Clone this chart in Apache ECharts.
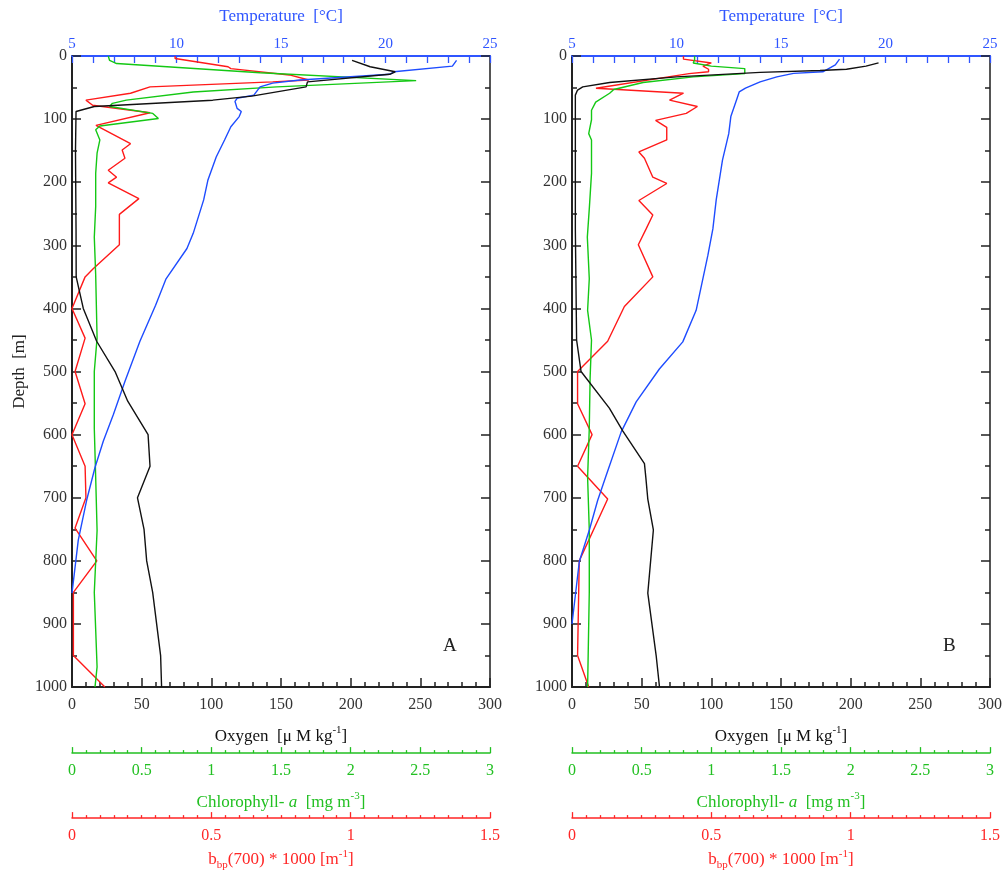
<!DOCTYPE html>
<html>
<head>
<meta charset="utf-8">
<script src="https://cdn.jsdelivr.net/npm/echarts@6/dist/echarts.min.js"></script>
<style>html,body{margin:0;padding:0;background:#fff}#c{width:1005px;height:876px}</style>
</head>
<body>
<div id="c"></div>
<script>
// ---------- Panel A data (depth in m) ----------
const A_oxy_depth = [7, 17, 25, 29, 41, 49, 63.5, 70, 80, 88, 150, 274, 350, 400, 452, 500, 547, 600, 650, 700, 750, 800, 850, 950, 1000];
const A_oxy_val   = [201, 214, 232, 228, 169, 168, 129, 101, 16, 2.9, 2.5, 2.9, 3, 8.1, 17.7, 30.9, 40, 54.6, 56, 47, 51.7, 53.6, 57.9, 63.6, 64.3];

const A_temp_depth = [7, 16, 25, 29, 38, 43, 49, 62, 67, 72, 83, 88, 96, 112, 133, 160, 197, 228, 281, 305, 353, 395, 452, 515, 568, 610, 652, 704, 767, 851];
const A_temp_val   = [23.4, 23.2, 20.4, 20.2, 15.9, 14.6, 14.0, 13.7, 12.9, 12.8, 12.9, 13.1, 13.0, 12.6, 12.3, 11.9, 11.5, 11.3, 10.8, 10.5, 9.5, 9.0, 8.25, 7.54, 6.98, 6.5, 6.1, 5.7, 5.3, 5.0];

const A_chl_depth = [0, 7, 12, 26.5, 39, 49, 57, 70, 75, 80, 91, 99, 111, 117, 133, 154, 186, 239, 287, 347, 447, 500, 590, 668, 752, 850, 968, 1000];
const A_chl_val   = [0.26, 0.27, 0.32, 1.35, 2.47, 1.47, 0.87, 0.39, 0.29, 0.27, 0.58, 0.62, 0.2, 0.17, 0.2, 0.18, 0.17, 0.17, 0.16, 0.17, 0.18, 0.16, 0.16, 0.17, 0.18, 0.16, 0.18, 0.165];

const A_bbp_depth = [0, 4, 17, 20, 30, 38, 41, 49, 59, 70, 78, 80, 90, 110, 139, 149, 162, 181, 192, 201, 226, 251, 299, 337, 350, 400, 447, 500, 551, 600, 650, 700, 748, 800, 850, 950, 1000];
const A_bbp_val   = [0.37, 0.37, 0.56, 0.57, 0.78, 0.85, 0.72, 0.28, 0.21, 0.05, 0.074, 0.08, 0.28, 0.086, 0.21, 0.18, 0.19, 0.13, 0.16, 0.13, 0.24, 0.17, 0.17, 0.076, 0.047, 0.0, 0.047, 0.011, 0.047, 0.0, 0.047, 0.05, 0.011, 0.089, 0.005, 0.005, 0.118];

// ---------- Panel B data ----------
const B_oxy_depth = [11, 16, 21, 23, 26, 33, 42, 49, 54, 62, 274, 450, 500, 558, 594, 646, 668, 702, 751, 851, 950, 1000];
const B_oxy_val   = [220, 211, 197, 178, 135, 75, 27, 7.7, 4, 2.4, 2.4, 3.3, 6.5, 26.8, 36.4, 52, 53, 54.4, 58.4, 54.4, 60.4, 62.8];

const B_temp_depth = [5, 14, 25, 27.5, 33, 41, 51, 57, 67, 96, 123, 165, 228, 274, 316, 403, 453, 496, 548, 596, 665, 704, 751, 801, 900];
const B_temp_val   = [17.8, 17.6, 17.0, 15.6, 14.8, 14.0, 13.3, 13.0, 12.9, 12.6, 12.5, 12.2, 11.9, 11.74, 11.5, 10.94, 10.3, 9.18, 8.07, 7.35, 6.63, 6.23, 5.83, 5.35, 5.0];

const B_chl_depth = [0, 6, 11, 16, 20, 28, 33, 42, 53, 59, 73, 86, 101, 123, 133, 186, 239, 287, 353, 403, 450, 510, 590, 668, 751, 850, 1000];
const B_chl_val   = [0.88, 0.88, 0.87, 1.0, 1.24, 1.24, 0.87, 0.51, 0.3, 0.27, 0.17, 0.14, 0.14, 0.12, 0.14, 0.14, 0.125, 0.11, 0.124, 0.112, 0.14, 0.13, 0.124, 0.112, 0.124, 0.124, 0.112];

const B_bbp_depth = [0, 5, 11, 16, 21, 25, 28, 51, 54, 59, 70, 80, 91, 102, 113, 133, 152, 162, 192, 202, 229, 252, 274, 299, 350, 397, 452, 500, 551, 600, 650, 702, 800, 950, 1000];
const B_bbp_val   = [0.40, 0.40, 0.50, 0.47, 0.49, 0.49, 0.42, 0.086, 0.09, 0.40, 0.35, 0.45, 0.41, 0.30, 0.34, 0.34, 0.24, 0.26, 0.29, 0.34, 0.24, 0.29, 0.266, 0.238, 0.29, 0.188, 0.128, 0.02, 0.02, 0.072, 0.02, 0.128, 0.026, 0.02, 0.06];

// ---------- axis / label texts ----------
const panelLabels = ['A', 'B'];
const tempTitle = 'Temperature  [°C]';
const depthTitle = 'Depth  [m]';

// ---------- styling ----------
const SERIF = '"Liberation Serif", "DejaVu Serif", serif';
const BLACK = '#222', BLUE = '#2f55ff', GREEN = '#22c022', RED = '#ff2626';
const LBLUE = '#1e4cff', LGREEN = '#14c814', LRED = '#ff1a1a';
const gridLefts = [72, 572];
const plain = v => String(v);

function zip(d, v) { return d.map((dd, i) => [v[i], dd]); }

const richBase = (color) => ({
  t: { fontSize: 17, fontFamily: SERIF, color: color, lineHeight: 22, verticalAlign: 'middle' },
  i: { fontSize: 17, fontFamily: SERIF, color: color, fontStyle: 'italic', lineHeight: 22, verticalAlign: 'middle' },
  sup: { fontSize: 11, fontFamily: SERIF, color: color, lineHeight: 10, verticalAlign: 'top' },
  sub: { fontSize: 11, fontFamily: SERIF, color: color, lineHeight: 10, verticalAlign: 'bottom' }
});

const grids = [], xAxes = [], yAxes = [], series = [], graphics = [];

[0, 1].forEach(p => {
  grids.push({ left: gridLefts[p], top: 56, width: 418, height: 635, containLabel: false });

  // oxygen (bottom)
  xAxes.push({
    type: 'value', gridIndex: p, position: 'bottom', min: 0, max: 300, interval: 50,
    axisLine: { onZero: false, lineStyle: { color: BLACK, width: 2 } },
    axisTick: { inside: true, length: 9, lineStyle: { color: BLACK, width: 1.5 } },
    minorTick: { show: true, splitNumber: 5, length: 5, lineStyle: { color: BLACK, width: 1.5 } },
    splitLine: { show: false },
    axisLabel: { color: '#333', fontFamily: SERIF, fontSize: 16, margin: 10, formatter: plain },
    name: '{t|Oxygen  [μ M kg}{sup|-1}{t|]}', nameLocation: 'middle', nameGap: 38,
    nameTextStyle: { rich: richBase('#111') }
  });
  // temperature (top)
  xAxes.push({
    type: 'value', gridIndex: p, position: 'top', min: 5, max: 25, interval: 5,
    axisLine: { onZero: false, lineStyle: { color: BLUE, width: 2 } },
    axisTick: { inside: true, length: 7, lineStyle: { color: BLUE, width: 1.3 } },
    minorTick: { show: true, splitNumber: 5, length: 7, lineStyle: { color: BLUE, width: 1.3 } },
    splitLine: { show: false },
    axisLabel: { color: BLUE, fontFamily: SERIF, fontSize: 15, margin: 4, formatter: plain },
    name: tempTitle, nameLocation: 'middle', nameGap: 31,
    nameTextStyle: { color: BLUE, fontFamily: SERIF, fontSize: 17 }
  });
  // chlorophyll (bottom, offset)
  xAxes.push({
    type: 'value', gridIndex: p, position: 'bottom', offset: 66, min: 0, max: 3, interval: 0.5,
    axisLine: { onZero: false, lineStyle: { color: GREEN, width: 1.5 } },
    axisTick: { inside: true, length: 6, lineStyle: { color: GREEN, width: 1.3 } },
    minorTick: { show: true, splitNumber: 5, length: 3, lineStyle: { color: GREEN, width: 1.3 } },
    splitLine: { show: false },
    axisLabel: { color: GREEN, fontFamily: SERIF, fontSize: 16, margin: 10, formatter: plain },
    name: '{t|Chlorophyll- }{i|a}{t|  [mg m}{sup|-3}{t|]}', nameLocation: 'middle', nameGap: 38,
    nameTextStyle: { rich: richBase(GREEN) }
  });
  // bbp (bottom, offset)
  xAxes.push({
    type: 'value', gridIndex: p, position: 'bottom', offset: 131, min: 0, max: 1.5, interval: 0.5,
    axisLine: { onZero: false, lineStyle: { color: RED, width: 1.5 } },
    axisTick: { inside: true, length: 6, lineStyle: { color: RED, width: 1.3 } },
    minorTick: { show: true, splitNumber: 10, length: 3, lineStyle: { color: RED, width: 1.3 } },
    splitLine: { show: false },
    axisLabel: { color: RED, fontFamily: SERIF, fontSize: 16, margin: 10, formatter: plain },
    name: '{t|b}{sub|bp}{t|(700) * 1000 [m}{sup|-1}{t|]}', nameLocation: 'middle', nameGap: 29,
    nameTextStyle: { rich: richBase(RED) }
  });

  // depth left
  yAxes.push({
    type: 'value', gridIndex: p, position: 'left', inverse: true, min: 0, max: 1000, interval: 100,
    axisLine: { onZero: false, lineStyle: { color: BLACK, width: 2 } },
    axisTick: { inside: true, length: 9, lineStyle: { color: BLACK, width: 1.5 } },
    minorTick: { show: true, splitNumber: 2, length: 5, lineStyle: { color: BLACK, width: 1.5 } },
    splitLine: { show: false },
    axisLabel: { color: '#333', fontFamily: SERIF, fontSize: 16, margin: 5, formatter: plain },
    name: p === 0 ? depthTitle : '', nameLocation: 'middle', nameGap: 44, nameRotate: 90,
    nameTextStyle: { color: '#222', fontFamily: SERIF, fontSize: 17 }
  });
  // depth right (mirror ticks)
  yAxes.push({
    type: 'value', gridIndex: p, position: 'right', inverse: true, min: 0, max: 1000, interval: 100,
    axisLine: { onZero: false, lineStyle: { color: '#555', width: 2 } },
    axisTick: { inside: true, length: 9, lineStyle: { color: BLACK, width: 1.5 } },
    minorTick: { show: true, splitNumber: 2, length: 5, lineStyle: { color: BLACK, width: 1.5 } },
    splitLine: { show: false },
    axisLabel: { show: false }
  });

  const D = p === 0
    ? { oxy: zip(A_oxy_depth, A_oxy_val), temp: zip(A_temp_depth, A_temp_val), chl: zip(A_chl_depth, A_chl_val), bbp: zip(A_bbp_depth, A_bbp_val) }
    : { oxy: zip(B_oxy_depth, B_oxy_val), temp: zip(B_temp_depth, B_temp_val), chl: zip(B_chl_depth, B_chl_val), bbp: zip(B_bbp_depth, B_bbp_val) };
  const mk = (data, xi, color) => ({
    type: 'line', data: data, xAxisIndex: p * 4 + xi, yAxisIndex: p * 2,
    showSymbol: false, symbol: 'none', animation: false, clip: true,
    lineStyle: { color: color, width: 1.4 }, z: 3
  });
  series.push(mk(D.bbp, 3, LRED));
  series.push(mk(D.chl, 2, LGREEN));
  series.push(mk(D.temp, 1, LBLUE));
  series.push(mk(D.oxy, 0, '#111'));

  graphics.push({
    type: 'text', left: gridLefts[p] + 371, top: 637,
    style: { text: panelLabels[p], font: '19px ' + SERIF, fill: '#222' }
  });
});

const chart = echarts.init(document.getElementById('c'), null, { renderer: 'canvas' });
chart.setOption({
  backgroundColor: '#fff',
  animation: false,
  grid: grids,
  xAxis: xAxes,
  yAxis: yAxes,
  series: series,
  graphic: graphics
});
</script>
</body>
</html>
